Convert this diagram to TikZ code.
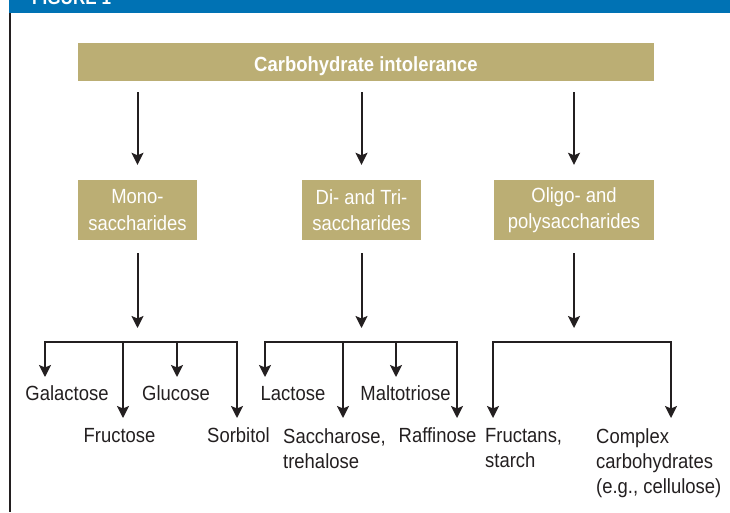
\documentclass[tikz,border=0pt]{standalone}
\usepackage{fontspec}
\setmainfont{Liberation Sans}[FakeStretch=0.9]
\usetikzlibrary{arrows.meta}
\definecolor{figblue}{RGB}{0,114,180}
\definecolor{gold}{RGB}{187,174,116}
\definecolor{ink}{RGB}{35,31,32}
\begin{document}
\begin{tikzpicture}[x=1pt,y=-1pt,
  box/.style={fill=gold, text=white, inner sep=0pt, align=center, font=\fontsize{20.5}{26.5}\selectfont},
  lbl/.style={text=ink, inner sep=0pt, font=\fontsize{20.5}{25}\selectfont},
  arr/.style={draw=ink, line width=2pt, -{Stealth[length=12pt,width=12pt,inset=2.5pt]}}]

\useasboundingbox (0,0) rectangle (730,512);
\fill[figblue] (9,0) rectangle (730,13.3);
\begin{scope}
  \clip (9,0) rectangle (730,13.3);
  \node[anchor=base west, inner sep=0pt, text=white, font=\bfseries\fontsize{19}{19}\selectfont] (figlabel) at (32,4.5) {FIGURE 1};
\end{scope}
\draw[ink, line width=2pt] (10,13.3) -- (10,512);

% boxes
\node[box, minimum width=576pt, minimum height=38pt, text height=18pt, text depth=0pt, font=\bfseries\fontsize{20.5}{22}\selectfont] (top) at (366,62) {Carbohydrate intolerance};
\node[box, minimum width=119pt, minimum height=60pt] (mono) at (137.5,210) {Mono-\\saccharides};
\node[box, minimum width=119pt, minimum height=60pt] (di) at (361.5,210) {Di- and Tri-\\saccharides};
\node[box, minimum width=160pt, minimum height=60pt] (oligo) at (574,210) {Oligo- and\\polysaccharides};

% top arrows
\draw[arr, shorten <=11pt, shorten >=15pt] (top.south -| mono.north) -- (mono.north);
\draw[arr, shorten <=11pt, shorten >=15pt] (top.south -| di.north) -- (di.north);
\draw[arr, shorten <=11pt, shorten >=15pt] (top.south -| oligo.north) -- (oligo.north);

% bracket centres
\coordinate (b1) at (137.5,342);
\coordinate (b2) at (361.5,342);
\coordinate (b3) at (574,342);
\draw[arr, shorten <=13pt, shorten >=14pt] (mono.south) -- (b1);
\draw[arr, shorten <=13pt, shorten >=14pt] (di.south) -- (b2);
\draw[arr, shorten <=13pt, shorten >=14pt] (oligo.south) -- (b3);

% arrow tips
\coordinate (t1a) at (45,377);
\coordinate (t1b) at (123,418);
\coordinate (t1c) at (177,377);
\coordinate (t1d) at (237,418);
\coordinate (t2a) at (265,377);
\coordinate (t2b) at (343,418);
\coordinate (t2c) at (396,377);
\coordinate (t2d) at (457,418);
\coordinate (t3a) at (493,418);
\coordinate (t3b) at (671,418);

% group 1
\draw[arr] (b1) -| (t1a);
\draw[arr] (b1) -| (t1d);
\draw[arr] (t1b |- b1) -- (t1b);
\draw[arr] (t1c |- b1) -- (t1c);
% group 2
\draw[arr] (b2) -| (t2a);
\draw[arr] (b2) -| (t2d);
\draw[arr] (t2b |- b2) -- (t2b);
\draw[arr] (t2c |- b2) -- (t2c);
% group 3
\draw[arr] (b3) -| (t3a);
\draw[arr] (b3) -| (t3b);

% labels
\node[lbl, anchor=base] (galactose) at (67,400) {Galactose};
\node[lbl, anchor=base] (glucose) at (176,400) {Glucose};
\node[lbl, anchor=base] (fructose) at (119.5,442) {Fructose};
\node[lbl, anchor=base] (sorbitol) at (238.5,442) {Sorbitol};
\node[lbl, anchor=base] (lactose) at (293,400) {Lactose};
\node[lbl, anchor=base] (maltotriose) at (405.5,400) {Maltotriose};
\node[lbl, anchor=north west, align=left] (saccharose) at (283,428.3) {Saccharose,\\trehalose};
\node[lbl, anchor=base] (raffinose) at (437.5,442) {Raffinose};
\node[lbl, anchor=north west, align=left] (fructans) at (485,428.3) {Fructans,\\starch};
\node[lbl, anchor=north west, align=left] (complex) at (596,428.3) {Complex\\carbohydrates\\(e.g., cellulose)};
\end{tikzpicture}
\end{document}
